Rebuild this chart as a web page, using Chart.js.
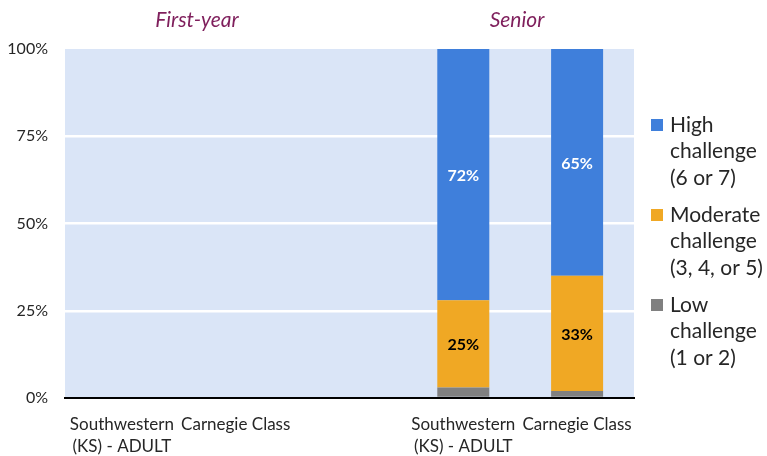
<!DOCTYPE html>
<html>
<head>
<meta charset="utf-8">
<script src="https://cdn.jsdelivr.net/npm/chart.js@4.4.1/dist/chart.umd.min.js"></script>
<style>
  html, body { margin: 0; padding: 0; background: #ffffff; }
  #wrap { width: 767px; height: 456px; position: relative; }
</style>
</head>
<body>
<div id="wrap"><canvas id="chart" width="767" height="456"></canvas></div>
<script>
// Chart data
const categories = [
  ['Southwestern', '(KS) - ADULT'],
  'Carnegie Class',
  '',
  ['Southwestern', '(KS) - ADULT'],
  'Carnegie Class'
];
const groupTitles = ['First-year', 'Senior'];
const lowValues = [null, null, null, 3, 2];
const moderateValues = [null, null, null, 25, 33];
const highValues = [null, null, null, 72, 65];
const yTicks = [0, 25, 50, 75, 100];
const seriesNames = ['Low\nchallenge\n(1 or 2)', 'Moderate\nchallenge\n(3, 4, or 5)', 'High\nchallenge\n(6 or 7)'];

const FONT = 'Lato, Calibri, Carlito, sans-serif';

// Light blue plot background
const plotBackground = {
  id: 'plotBackground',
  beforeDraw(chart) {
    const { ctx, chartArea: a } = chart;
    ctx.save();
    ctx.fillStyle = '#dae5f7';
    ctx.fillRect(a.left, a.top, a.right - a.left, a.bottom - a.top);
    ctx.restore();
  }
};

// Values written inside the bar segments
const segmentLabels = {
  id: 'segmentLabels',
  afterDatasetsDraw(chart) {
    const { ctx } = chart;
    ctx.save();
    ctx.font = 'bold 16px ' + FONT;
    ctx.textAlign = 'center';
    ctx.textBaseline = 'middle';
    chart.data.datasets.forEach((ds, i) => {
      if (!ds.labelColor) return;
      chart.getDatasetMeta(i).data.forEach((bar, j) => {
        const v = ds.data[j];
        if (v == null) return;
        ctx.fillStyle = ds.labelColor;
        ctx.fillText(v + '%', bar.x, (bar.y + bar.base) / 2 + 1);
      });
    });
    ctx.restore();
  }
};

// Group titles above the plot and the multi-line legend on the right
const extras = {
  id: 'extras',
  afterDraw(chart) {
    const { ctx } = chart;
    ctx.save();
    ctx.font = 'italic 21px ' + FONT;
    ctx.fillStyle = '#7f1f5c';
    ctx.textAlign = 'center';
    ctx.textBaseline = 'middle';
    ctx.fillText(groupTitles[0], 197, 20);
    ctx.fillText(groupTitles[1], 517, 20);

    ctx.font = '21px ' + FONT;
    ctx.textAlign = 'left';
    const datasets = chart.data.datasets.slice().reverse();
    datasets.forEach((ds, k) => {
      const top = 125 + k * 90;
      ctx.fillStyle = ds.backgroundColor;
      ctx.fillRect(651, top - 6, 12, 12);
      ctx.fillStyle = '#262626';
      ds.label.split('\n').forEach((line, n) => {
        ctx.fillText(line, 670, top + n * 26.5);
      });
    });
    ctx.restore();
  }
};

new Chart(document.getElementById('chart'), {
  type: 'bar',
  data: {
    labels: categories,
    datasets: [
      { label: seriesNames[0], data: lowValues, backgroundColor: '#808080' },
      { label: seriesNames[1], data: moderateValues, backgroundColor: '#f0a824', labelColor: '#000000' },
      { label: seriesNames[2], data: highValues, backgroundColor: '#3f7fdb', labelColor: '#ffffff' }
    ]
  },
  options: {
    responsive: false,
    animation: false,
    layout: { padding: { top: 49, right: 133, left: 0, bottom: 0 } },
    datasets: { bar: { barPercentage: 0.457, categoryPercentage: 1 } },
    plugins: {
      legend: { display: false },
      tooltip: { enabled: false }
    },
    scales: {
      x: {
        stacked: true,
        grid: { display: false },
        border: { color: '#000000', width: 2 },
        ticks: {
          color: '#262626',
          font: { family: FONT, size: 17, lineHeight: 1.3 },
          padding: 7,
          maxRotation: 0,
          autoSkip: false
        },
        afterFit(scale) { scale.height = 58; }
      },
      y: {
        stacked: true,
        min: 0,
        max: 100,
        afterBuildTicks(scale) { scale.ticks = yTicks.map(v => ({ value: v })); },
        grid: {
          color: ctx => (ctx.tick.value === 0 || ctx.tick.value === 100) ? 'rgba(0,0,0,0)' : '#ffffff',
          lineWidth: 2.5,
          drawTicks: false
        },
        border: { display: false },
        ticks: {
          color: '#262626',
          font: { family: FONT, size: 16 },
          padding: 17,
          callback: v => v + '%'
        },
        afterFit(scale) { scale.width = 65; }
      }
    }
  },
  plugins: [plotBackground, segmentLabels, extras]
});
</script>
</body>
</html>
